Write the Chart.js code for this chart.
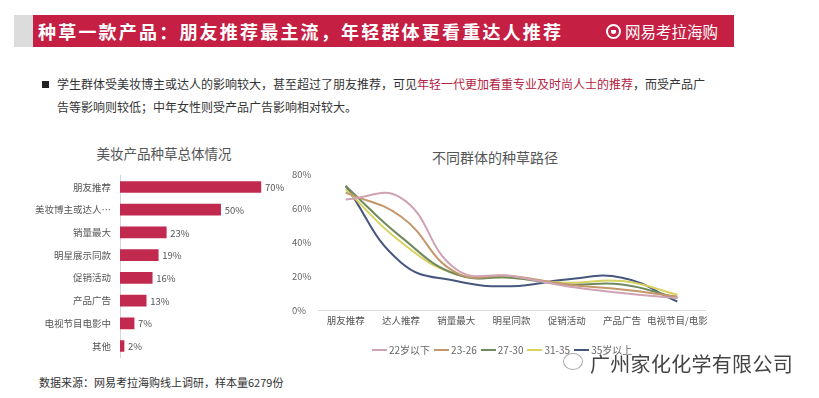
<!DOCTYPE html>
<html>
<head>
<meta charset="utf-8">
<script src="https://cdn.jsdelivr.net/npm/chart.js@4.4.1/dist/chart.umd.min.js"></script>
<style>
  html,body{margin:0;padding:0;background:#fff;}
  body{width:819px;height:398px;position:relative;overflow:hidden;font-family:"Noto Sans CJK SC","Noto Sans",sans-serif;}
  .abs{position:absolute;}
  #hdrGray{left:14px;top:15px;width:19px;height:32px;background:#dcdcdc;}
  #hdr{left:33px;top:15px;width:701px;height:32px;background:#c61f44;}
  #hdrTitle{left:38px;top:15px;height:32px;line-height:32px;color:#fff;font-size:18px;font-weight:bold;letter-spacing:2.2px;white-space:nowrap;}
  #logo{left:606px;top:24px;width:11px;height:11px;border:2px solid #fff;border-radius:50%;}
  #logo:after{content:"";position:absolute;left:3px;top:4px;width:5px;height:4px;background:#fff;border-radius:0 0 3px 3px;}
  #logoText{left:625px;top:15px;height:32px;line-height:32px;color:#fff;font-size:15.5px;white-space:nowrap;}
  #bullet{left:42px;top:81px;width:7px;height:7px;background:#222;}
  #para{left:57px;top:72px;font-size:12px;line-height:23px;color:#333;white-space:nowrap;}
  #para .red{color:#b3223f;}
  .ctitle{font-size:13.5px;color:#555;white-space:nowrap;transform:translateX(-50%);}
  #legend{left:372px;top:343px;display:flex;font-size:10px;color:#666;white-space:nowrap;line-height:14px;}
  #legend .it{display:flex;align-items:center;margin-right:4px;}
  #legend .ln{width:15px;height:2px;margin-right:2px;}
  #footer{left:39px;top:374px;font-size:11px;color:#333;white-space:nowrap;}
  #wm{left:590px;top:349px;font-size:20px;color:#444;white-space:nowrap;letter-spacing:0.3px;text-shadow:0 0 2px #fff,0 0 2px #fff;}
  #wmIcon{left:563px;top:353px;width:18px;height:15px;border:1px solid #aaa;border-radius:50%;}
</style>
</head>
<body>
<div class="abs" id="hdrGray"></div>
<div class="abs" id="hdr"></div>
<div class="abs" id="hdrTitle">种草一款产品：朋友推荐最主流，年轻群体更看重达人推荐</div>
<div class="abs" id="logo"></div>
<div class="abs" id="logoText">网易考拉海购</div>
<div class="abs" id="bullet"></div>
<div class="abs" id="para">学生群体受美妆博主或达人的影响较大，甚至超过了朋友推荐，可见<span class="red">年轻一代更加看重专业及时尚人士的推荐</span>，而受产品广<br>告等影响则较低；中年女性则受产品广告影响相对较大。</div>

<div class="abs ctitle" style="left:164px;top:143px;">美妆产品种草总体情况</div>
<div class="abs ctitle" style="left:495px;top:147px;font-size:14px;">不同群体的种草路径</div>

<canvas id="bar" class="abs" style="left:20px;top:170px;" width="280" height="190"></canvas>
<canvas id="line" class="abs" style="left:290px;top:165px;" width="430" height="165"></canvas>
<div class="abs" id="legend"></div>

<div class="abs" id="footer">数据来源：网易考拉海购线上调研，样本量6279份</div>
<div class="abs" id="wmIcon"></div>
<div class="abs" id="wm">广州家化化学有限公司</div>

<script>
// ---- data ----
const barCategories = ["朋友推荐", "美妆博主或达人…", "销量最大", "明星展示同款", "促销活动", "产品广告", "电视节目电影中", "其他"];
const barValues = [70, 50, 23, 19, 16, 13, 7, 2];

const lineCategories = ["朋友推荐", "达人推荐", "销量最大", "明星同款", "促销活动", "产品广告", "电视节目/电影"];
const seriesNames = ["22岁以下", "23-26", "27-30", "31-35", "35岁以上"];
const s22under = [65, 66, 24, 20, 14, 10, 7];
const s23to26 = [69, 55, 22, 20, 15, 12, 8];
const s27to30 = [73, 43, 21, 19, 15, 15, 7];
const s31to35 = [71, 40, 21, 19, 16, 17, 9];
const s35over = [73, 28, 17, 14, 18, 19, 5];
const yTicks = [0, 20, 40, 60, 80];

const seriesColors = ["#cfa2b4", "#c4976a", "#6f8a5f", "#d8d35f", "#46577d"];
const FONT = '"Noto Sans CJK SC","Noto Sans",sans-serif';

// ---- bar chart ----
const valueLabels = {
  id: 'valueLabels',
  afterDatasetsDraw(chart) {
    const ctx = chart.ctx;
    const meta = chart.getDatasetMeta(0);
    ctx.save();
    ctx.font = '9.5px ' + FONT;
    ctx.fillStyle = '#555';
    ctx.textBaseline = 'middle';
    ctx.textAlign = 'left';
    meta.data.forEach((el, i) => {
      ctx.fillText(barValues[i] + '%', el.x + 4, el.y + 0.5);
    });
    ctx.restore();
  }
};

new Chart(document.getElementById('bar'), {
  type: 'bar',
  data: {
    labels: barCategories,
    datasets: [{ data: barValues, backgroundColor: '#c2294e', barThickness: 11 }]
  },
  options: {
    indexAxis: 'y',
    responsive: false,
    animation: false,
    devicePixelRatio: 1,
    layout: { padding: { top: 5.6, bottom: 2.6, left: 0, right: 19 } },
    plugins: { legend: { display: false }, tooltip: { enabled: false } },
    scales: {
      x: { display: false, min: 0, max: 80 },
      y: {
        afterFit(scale) { scale.width = 100; scale.paddingTop = 0; scale.paddingBottom = 0; },
        grid: { display: false, drawTicks: false },
        border: { display: true, color: '#d6d6d6', width: 1 },
        ticks: { font: { size: 9.5, family: FONT }, color: '#555', padding: 9 }
      }
    }
  },
  plugins: [valueLabels]
});

// ---- line chart ----
const seriesData = [s22under, s23to26, s27to30, s31to35, s35over];
new Chart(document.getElementById('line'), {
  type: 'line',
  data: {
    labels: lineCategories,
    datasets: seriesNames.map((n, i) => ({
      label: n,
      data: seriesData[i],
      borderColor: seriesColors[i],
      backgroundColor: seriesColors[i],
      borderWidth: 2,
      pointRadius: 0,
      tension: 0.45,
      fill: false
    }))
  },
  options: {
    responsive: false,
    animation: false,
    devicePixelRatio: 1,
    layout: { padding: { top: 9, bottom: 0, left: 2, right: 15 } },
    plugins: { legend: { display: false }, tooltip: { enabled: false } },
    scales: {
      x: {
        offset: true,
        afterFit(scale) { scale.height = 20; },
        grid: { display: false, drawTicks: false },
        border: { display: true, color: '#d9d9d9', width: 1 },
        ticks: { font: { size: 9.5, family: FONT }, color: '#555', padding: 5, maxRotation: 0, autoSkip: false }
      },
      y: {
        min: 0, max: 80,
        afterFit(scale) { scale.width = 26; },
        afterBuildTicks(scale) { scale.ticks = yTicks.map(v => ({ value: v })); },
        grid: { display: false, drawTicks: false },
        border: { display: false },
        ticks: { font: { size: 9.5, family: FONT }, color: '#666', crossAlign: 'far', padding: 0, callback: v => v + '%' }
      }
    }
  }
});

// ---- legend ----
const legend = document.getElementById('legend');
seriesNames.forEach((n, i) => {
  const it = document.createElement('div');
  it.className = 'it';
  const ln = document.createElement('span');
  ln.className = 'ln';
  ln.style.background = seriesColors[i];
  const tx = document.createElement('span');
  tx.textContent = n;
  it.appendChild(ln); it.appendChild(tx);
  legend.appendChild(it);
});
</script>
</body>
</html>
